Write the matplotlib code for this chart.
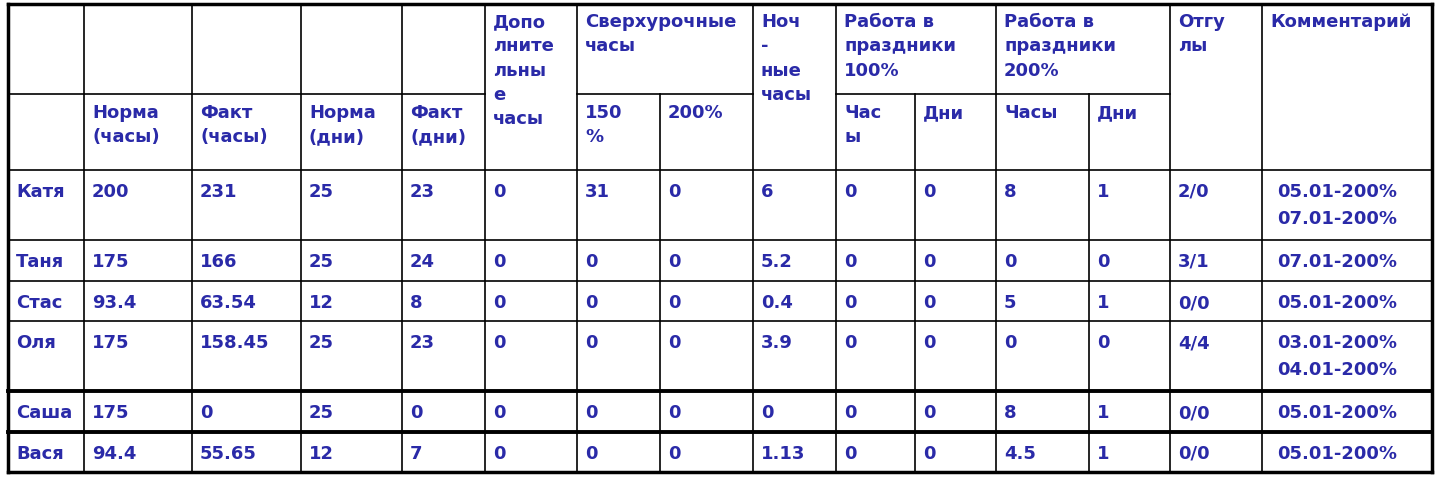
import matplotlib.pyplot as plt

names = ["Катя", "Таня", "Стас", "Оля", "Саша", "Вася"]
norma_h = ["200", "175", "93.4", "175", "175", "94.4"]
fakt_h = ["231", "166", "63.54", "158.45", "0", "55.65"]
norma_d = ["25", "25", "12", "25", "25", "12"]
fakt_d = ["23", "24", "8", "23", "0", "7"]
extra = ["0", "0", "0", "0", "0", "0"]
over150 = ["31", "0", "0", "0", "0", "0"]
over200 = ["0", "0", "0", "0", "0", "0"]
night = ["6", "5.2", "0.4", "3.9", "0", "1.13"]
hol100_h = ["0", "0", "0", "0", "0", "0"]
hol100_d = ["0", "0", "0", "0", "0", "0"]
hol200_h = ["8", "0", "5", "0", "8", "4.5"]
hol200_d = ["1", "0", "1", "0", "1", "1"]
otgul = ["2/0", "3/1", "0/0", "4/4", "0/0", "0/0"]
comment = ["05.01-200%\n07.01-200%", "07.01-200%", "05.01-200%",
           "03.01-200%\n04.01-200%", "05.01-200%", "05.01-200%"]

columns = [names, norma_h, fakt_h, norma_d, fakt_d, extra, over150, over200, night,
           hol100_h, hol100_d, hol200_h, hol200_d, otgul, comment]

xs = [8, 84, 192, 301, 402, 485, 577, 660, 753, 836, 915, 996, 1089, 1170, 1262, 1432]
ys = [4, 94, 170, 240, 281, 321, 391, 432, 472]

blue = "#2a2aa8"
fig = plt.figure(figsize=(14.42, 4.78), dpi=100)
ax = fig.add_axes([0, 0, 1, 1])
ax.set_xlim(0, 1442)
ax.set_ylim(478, 0)
ax.axis("off")

lw = 1.2
# vertical lines
for i, x in enumerate(xs):
    if i in (7, 10, 12):
        ax.plot([x, x], [ys[1], ys[-1]], color="black", lw=lw)
    else:
        ax.plot([x, x], [ys[0], ys[-1]], color="black", lw=2.5 if i in (0, 15) else lw)
# horizontal lines
ax.plot([xs[0], xs[-1]], [ys[0]] * 2, color="black", lw=2.5)
ax.plot([xs[-1], xs[0]], [ys[-1]] * 2, color="black", lw=2.5)
for a, b in [(0, 5), (6, 8), (9, 11), (11, 13)]:
    ax.plot([xs[a], xs[b]], [ys[1]] * 2, color="black", lw=lw)
for y in ys[2:-1]:
    ax.plot([xs[0], xs[-1]], [y, y], color="black", lw=2.8 if y in (391, 432) else lw)

fs = 13
kw = dict(color=blue, fontsize=fs, fontweight="bold", va="top", ha="left",
          linespacing=1.45)
pad = 8
top_headers = [(5, "Допо\nлните\nльны\nе\nчасы"), (6, "Сверхурочные\nчасы"),
               (8, "Ноч\n-\nные\nчасы"), (9, "Работа в\nпраздники\n100%"),
               (11, "Работа в\nпраздники\n200%"), (13, "Отгу\nлы"), (14, "Комментарий")]
for c, t in top_headers:
    ax.text(xs[c] + pad, ys[0] + 9, t, **kw)
sub_headers = [(1, "Норма\n(часы)"), (2, "Факт\n(часы)"), (3, "Норма\n(дни)"),
               (4, "Факт\n(дни)"), (6, "150\n%"), (7, "200%"), (9, "Час\nы"),
               (10, "Дни"), (11, "Часы"), (12, "Дни")]
for c, t in sub_headers:
    ax.text(xs[c] + pad, ys[1] + 10, t, **kw)

for r in range(len(names)):
    for c, col in enumerate(columns):
        if c == 14:
            ax.text(xs[c] + pad + 7, ys[r + 2] + 13, col[r],
                    **{**kw, "linespacing": 1.65})
        else:
            ax.text(xs[c] + pad, ys[r + 2] + 13, col[r], **kw)

fig.savefig("out.png", dpi=100)
